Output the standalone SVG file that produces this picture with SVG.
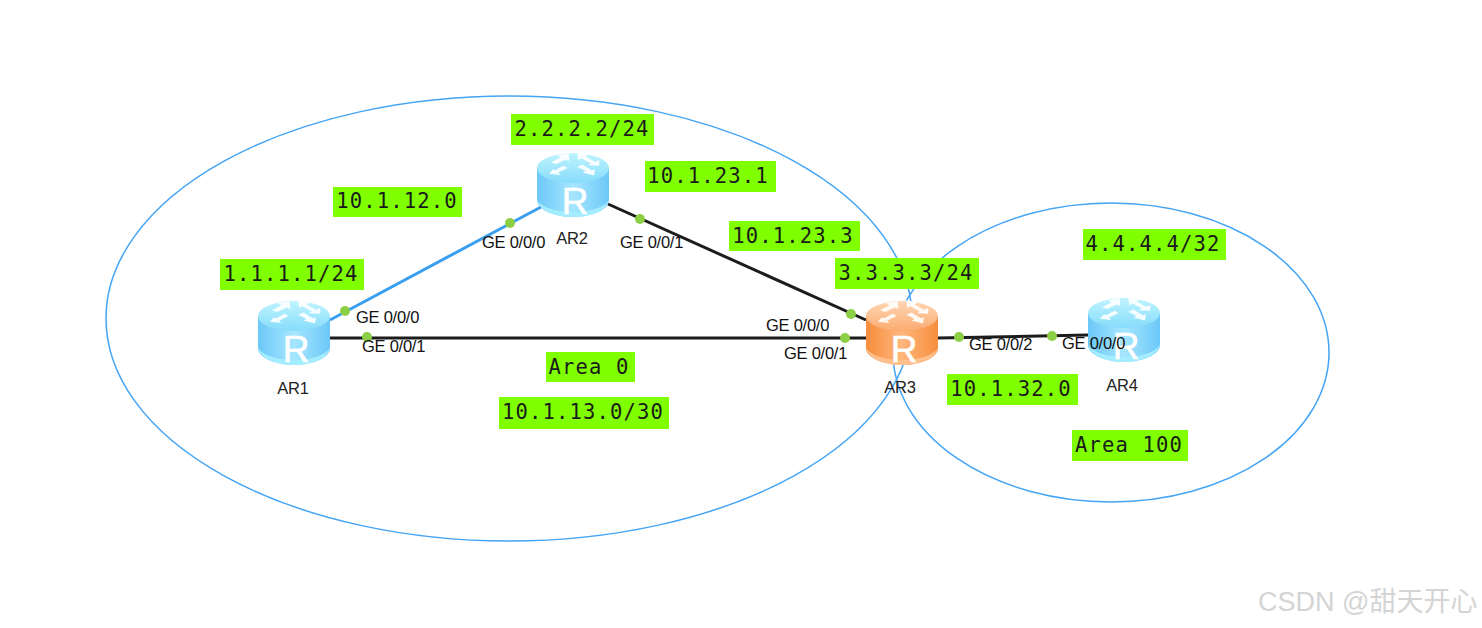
<svg xmlns="http://www.w3.org/2000/svg" width="1482" height="628" viewBox="0 0 1482 628">
<style>
.area{fill:none;stroke:#44a4f5;stroke-width:1.5}
.link{fill:none;stroke-width:3;stroke-linecap:butt}
.k{stroke:#1c1c1c}
.b{stroke:#3a9ff0}
.dot{fill:#8ccf45}
.box{fill:#80ff00}
.net{font-family:"DejaVu Sans Mono","Liberation Mono",monospace;font-size:20.5px;letter-spacing:1.15px;fill:#1a1a1a;text-anchor:middle}
.port{font-family:"Liberation Sans",Arial,sans-serif;font-size:16.5px;letter-spacing:-.25px;fill:#111}
.name{font-family:"Liberation Sans",Arial,sans-serif;font-size:16.5px;letter-spacing:-.2px;fill:#222;text-anchor:middle}
.r{font-family:"Liberation Sans",Arial,sans-serif;font-size:37px;fill:#fff;stroke:#fff;stroke-width:.6;text-anchor:middle}
.wm{font-family:"Liberation Sans","Noto Sans CJK SC",sans-serif;font-size:27px;fill:#d4d4d4}
.arr{fill:#fff;fill-opacity:.9}
</style>
<defs>
<linearGradient id="bb" x1="0" x2="1" y1="0" y2="0"><stop offset="0" stop-color="#6cc8f8"/><stop offset=".5" stop-color="#a6e6ff"/><stop offset="1" stop-color="#6cc8f8"/></linearGradient>
<linearGradient id="bt" x1="0" x2="0" y1="0" y2="1"><stop offset="0" stop-color="#c0f4ff"/><stop offset="1" stop-color="#86dcfa"/></linearGradient>
<linearGradient id="ob" x1="0" x2="1" y1="0" y2="0"><stop offset="0" stop-color="#f58d3c"/><stop offset=".5" stop-color="#ffb67c"/><stop offset="1" stop-color="#f58d3c"/></linearGradient>
<linearGradient id="ot" x1="0" x2="0" y1="0" y2="1"><stop offset="0" stop-color="#ffd6b4"/><stop offset="1" stop-color="#fbab70"/></linearGradient>
<g id="arrows" transform="scale(1.05 1.15)">
<path class="arr" d="M-4-13 L-15-11 L-12-9.200 L-21-5 L-16-3.500 L-7-7.500 L-3.500-6 Z"/>
<path class="arr" d="M4-14 L15-11.500 L12-10 L21-5.500 L25-7 L25-2 L14-2.500 L17-4 L8-8.500 L5-7 Z"/>
<path class="arr" d="M-19 1 L-23 5 L-12 6 L-14 4 L-5 0 L-9-2 L-17 2 Z"/>
<path class="arr" d="M4-1 L12 2.500 L9 4 L20 6.500 L21 1 L18 2 L9-3 Z"/>
</g>
<g id="blue">
<path d="M-36 15V47C-36 56-20 64 0 64S36 56 36 47V15Z" fill="url(#bb)"/>
<path d="M-36 45C-36 56-20 64 0 64S36 56 36 45C36 52 20 59 0 59S-36 52-36 45Z" fill="#a4ecff"/>
<ellipse cx="0" cy="15" rx="36" ry="15" fill="url(#bt)"/>
<use href="#arrows" y="15"/>
</g>
<g id="orange">
<path d="M-36 15V47C-36 56-20 64 0 64S36 56 36 47V15Z" fill="url(#ob)"/>
<path d="M-36 45C-36 56-20 64 0 64S36 56 36 45C36 52 20 59 0 59S-36 52-36 45Z" fill="#ffc08e"/>
<ellipse cx="0" cy="15" rx="36" ry="15" fill="url(#ot)"/>
<use href="#arrows" y="15"/>
</g>
</defs>
<rect width="1482" height="628" fill="#fff"/>
<g id="areas">
<ellipse class="area" cx="509" cy="318.500" rx="403" ry="222.500"/>
<ellipse class="area" cx="1111" cy="352.500" rx="218" ry="149.500"/>
</g>
<g id="connectors">
<line class="link b" x1="330" y1="320" x2="541" y2="207"/>
<line class="link k" x1="608" y1="204" x2="866" y2="320"/>
<line class="link k" x1="330" y1="338" x2="866" y2="338"/>
<line class="link k" x1="938" y1="338" x2="1088" y2="335"/>
<circle class="dot" cx="345" cy="311" r="5"/>
<circle class="dot" cx="367" cy="337" r="5"/>
<circle class="dot" cx="510" cy="223" r="5"/>
<circle class="dot" cx="640" cy="219" r="5"/>
<circle class="dot" cx="851" cy="314" r="5"/>
<circle class="dot" cx="845" cy="338" r="5"/>
<circle class="dot" cx="959" cy="337" r="5"/>
<circle class="dot" cx="1052" cy="336" r="5"/>
</g>
<g id="AR1"><use href="#blue" x="294" y="301"/><text class="r" x="296" y="362">R</text><text class="name" x="293" y="394">AR1</text></g>
<g id="AR2"><use href="#blue" x="573" y="153"/><text class="r" x="575" y="214">R</text><text class="name" x="572" y="244">AR2</text></g>
<g id="AR3"><use href="#orange" x="902" y="301"/><text class="r" x="904" y="362">R</text><text class="name" x="900" y="393">AR3</text></g>
<g id="AR4"><use href="#blue" x="1124" y="298"/><text class="r" x="1126" y="359">R</text><text class="name" x="1122" y="391">AR4</text></g>
<g id="ports">
<text class="port" x="356" y="323">GE 0/0/0</text>
<text class="port" x="362" y="352">GE 0/0/1</text>
<text class="port" x="482" y="248">GE 0/0/0</text>
<text class="port" x="620" y="248">GE 0/0/1</text>
<text class="port" x="766" y="331">GE 0/0/0</text>
<text class="port" x="784" y="359">GE 0/0/1</text>
<text class="port" x="969" y="350">GE 0/0/2</text>
<text class="port" x="1062" y="349">GE 0/0/0</text>
</g>
<g id="lbl-2222"><rect class="box" x="511" y="114" width="143" height="31"/><text class="net" x="582" y="136">2.2.2.2/24</text></g>
<g id="lbl-10123-1"><rect class="box" x="645" y="161" width="131" height="31"/><text class="net" x="708" y="183">10.1.23.1</text></g>
<g id="lbl-10112"><rect class="box" x="333" y="187" width="129" height="30"/><text class="net" x="397" y="208">10.1.12.0</text></g>
<g id="lbl-1111"><rect class="box" x="220" y="259" width="144" height="31"/><text class="net" x="291" y="281">1.1.1.1/24</text></g>
<g id="lbl-10123-3"><rect class="box" x="729" y="221" width="131" height="30"/><text class="net" x="793" y="243">10.1.23.3</text></g>
<g id="lbl-3333"><rect class="box" x="835" y="258" width="144" height="31"/><text class="net" x="906" y="280">3.3.3.3/24</text></g>
<g id="lbl-4444"><rect class="box" x="1083" y="229" width="143" height="31"/><text class="net" x="1153" y="251">4.4.4.4/32</text></g>
<g id="lbl-10132"><rect class="box" x="947" y="374" width="131" height="31"/><text class="net" x="1011" y="396">10.1.32.0</text></g>
<g id="lbl-area0"><rect class="box" x="546" y="352" width="89" height="30"/><text class="net" x="589" y="374">Area 0</text></g>
<g id="lbl-10113"><rect class="box" x="499" y="397" width="170" height="32"/><text class="net" x="583" y="419">10.1.13.0/30</text></g>
<g id="lbl-area100"><rect class="box" x="1072" y="430" width="116" height="31"/><text class="net" x="1129" y="452">Area 100</text></g>
<text class="wm" x="1258" y="611">CSDN @甜天开心</text>
</svg>
